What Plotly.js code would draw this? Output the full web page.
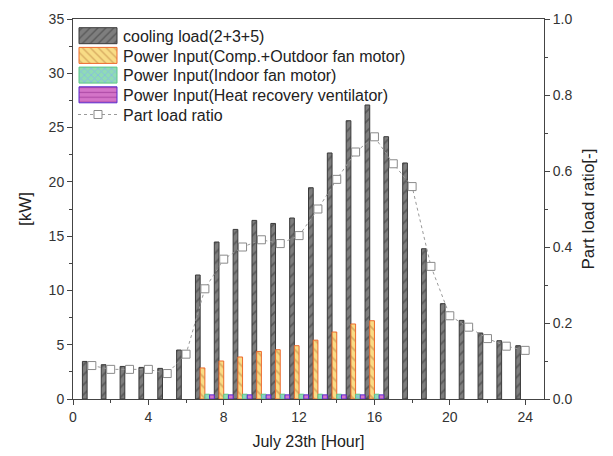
<!DOCTYPE html>
<html>
<head>
<meta charset="utf-8">
<script src="https://cdn.plot.ly/plotly-3.0.1.min.js"></script>
<style>
  html, body { margin: 0; padding: 0; background: #fff; }
  #chart { width: 613px; height: 456px; }
</style>
</head>
<body>
<div id="chart"></div>
<script>
// ---- data ----
const hours = [1,2,3,4,5,6,7,8,9,10,11,12,13,14,15,16,17,18,19,20,21,22,23,24];
const coolingLoad = [3.46,3.16,3.0,2.91,2.82,4.51,11.42,14.46,15.62,16.45,16.17,16.67,19.46,22.66,25.63,27.08,24.16,21.74,13.84,8.78,7.24,6.08,5.37,4.91];
const powerComp = [null,null,null,null,null,null,2.86,3.5,3.87,4.38,4.54,4.91,5.42,6.17,6.91,7.21,null,null,null,null,null,null,null,null];
const powerIndoorFan = [null,null,null,null,null,null,0.44,0.44,0.44,0.44,0.44,0.44,0.44,0.44,0.44,0.44,null,null,null,null,null,null,null,null];
const powerHRV = [null,null,null,null,null,null,0.38,0.38,0.38,0.38,0.38,0.38,0.38,0.38,0.38,0.38,null,null,null,null,null,null,null,null];
const partLoadRatio = [0.088,0.078,0.078,0.078,0.067,0.118,0.29,0.368,0.40,0.419,0.409,0.43,0.50,0.578,0.65,0.69,0.619,0.559,0.349,0.219,0.189,0.159,0.139,0.128];
const xTickVals = [0,4,8,12,16,20,24];

const names = {
  cooling: 'cooling load(2+3+5)',
  comp: 'Power Input(Comp.+Outdoor fan motor)',
  indoor: 'Power Input(Indoor fan motor)',
  hrv: 'Power Input(Heat recovery ventilator)',
  plr: 'Part load ratio'
};

const FONT = 'Liberation Sans, Arial, Helvetica, sans-serif';

const traces = [
  {
    type: 'bar', name: names.cooling, x: hours, y: coolingLoad,
    marker: {
      color: '#7a7a7a',
      line: { color: '#3a3a3a', width: 1 },
      pattern: { shape: '/', fillmode: 'replace', bgcolor: '#7e7e7e', fgcolor: '#5a5a5a', size: 7, solidity: 0.25 }
    }
  },
  {
    type: 'bar', name: names.comp, x: hours, y: powerComp,
    marker: {
      color: '#f6d77c',
      line: { color: '#ee6a2c', width: 1 },
      pattern: { shape: '\\', fillmode: 'replace', bgcolor: '#f8dc86', fgcolor: '#d9ad62', size: 7, solidity: 0.25 }
    }
  },
  {
    type: 'bar', name: names.indoor, x: hours, y: powerIndoorFan,
    marker: {
      color: '#8fdcb4',
      line: { color: '#5cc884', width: 1 },
      pattern: { shape: 'x', fillmode: 'replace', bgcolor: '#8fdcb4', fgcolor: '#86b8e6', size: 6, solidity: 0.3 }
    }
  },
  {
    type: 'bar', name: names.hrv, x: hours, y: powerHRV,
    marker: {
      color: '#d474c8',
      line: { color: '#5b2bd0', width: 1 },
      pattern: { shape: '-', fillmode: 'replace', bgcolor: '#d474c8', fgcolor: '#b04ca8', size: 6, solidity: 0.25 }
    }
  },
  {
    type: 'scatter', mode: 'lines+markers', name: names.plr, x: hours, y: partLoadRatio, yaxis: 'y2',
    line: { color: '#9a9a9a', width: 1, dash: 'dot' },
    marker: { symbol: 'square', size: 8, color: '#ffffff', line: { color: '#8a8a8a', width: 1 } }
  }
];

const axisCommon = {
  showgrid: false, zeroline: false,
  showline: true, linecolor: '#444', linewidth: 1,
  ticks: 'outside', ticklen: 5, tickcolor: '#444', tickwidth: 1,
  tickfont: { family: FONT, size: 14, color: '#333' }
};

const layout = {
  width: 613, height: 456,
  margin: { l: 73, r: 69, t: 19, b: 57 },
  paper_bgcolor: '#ffffff', plot_bgcolor: '#ffffff',
  font: { family: FONT, color: '#222' },
  barmode: 'group', bargap: 0, bargroupgap: 0,
  showlegend: true,
  legend: {
    x: 0, y: 0.995, xanchor: 'left', yanchor: 'top',
    bgcolor: 'rgba(0,0,0,0)', borderwidth: 0,
    font: { family: FONT, size: 16, color: '#222' },
    itemwidth: 40, tracegroupgap: 0, traceorder: 'normal'
  },
  xaxis: Object.assign({}, axisCommon, {
    range: [0, 25], tickmode: 'array', tickvals: xTickVals,
    mirror: true,
    minor: { dtick: 2, tick0: 0, ticks: 'outside', ticklen: 3, tickcolor: '#444' },
    title: { text: 'July 23th [Hour]', font: { family: FONT, size: 16, color: '#222' }, standoff: 12 }
  }),
  yaxis: Object.assign({}, axisCommon, {
    range: [0, 35], dtick: 5, tick0: 0,
    minor: { dtick: 2.5, ticks: 'outside', ticklen: 3, tickcolor: '#444' },
    title: { text: '[kW]', font: { family: FONT, size: 17, color: '#222' }, standoff: 12 }
  }),
  yaxis2: Object.assign({}, axisCommon, {
    overlaying: 'y', side: 'right',
    range: [0, 1], dtick: 0.2, tick0: 0, tickformat: '.1f',
    minor: { dtick: 0.1, ticks: 'outside', ticklen: 3, tickcolor: '#444' },
    title: { text: 'Part load ratio[-]', font: { family: FONT, size: 17, color: '#222' }, standoff: 10 }
  })
};

// legend look of the reference: long swatches, tight rows
const LEGEND_ROW_STEP = 19.7;
const LEGEND_FIRST_ROW_CENTER = 35.7;

Plotly.newPlot('chart', traces, layout, { staticPlot: true, displayModeBar: false }).then(function (gd) {
  gd.querySelectorAll('.legend .legendpoints path').forEach(function (p) {
    const d = (p.getAttribute('d') || '').replace(/\s/g, '');
    if (d === 'M6,6H-6V-6H6Z') {
      p.setAttribute('d', 'M19,8H-19V-8H19Z');
    }
  });
  const items = Array.from(gd.querySelectorAll('.legend .traces'));
  if (!items.length) return;
  const parse = function (el) {
    const t = el.getAttribute('transform') || '';
    const m = t.match(/translate\(\s*([-\d.e]+)[ ,]+([-\d.e]+)\s*\)/);
    return m ? [parseFloat(m[1]), parseFloat(m[2])] : [0, 0];
  };
  const first = parse(items[0]);
  items.forEach(function (el, i) {
    const p = parse(el);
    el.setAttribute('transform', 'translate(' + p[0] + ',' + (first[1] + i * LEGEND_ROW_STEP) + ')');
  });
  // align first row centre with the reference
  const sw = items[0].querySelector('.legendpoints path');
  if (sw) {
    const r = sw.getBoundingClientRect();
    const host = gd.getBoundingClientRect();
    const centre = (r.top + r.bottom) / 2 - host.top;
    const delta = LEGEND_FIRST_ROW_CENTER - centre;
    items.forEach(function (el) {
      const p = parse(el);
      el.setAttribute('transform', 'translate(' + p[0] + ',' + (p[1] + delta) + ')');
    });
  }
});
</script>
</body>
</html>
